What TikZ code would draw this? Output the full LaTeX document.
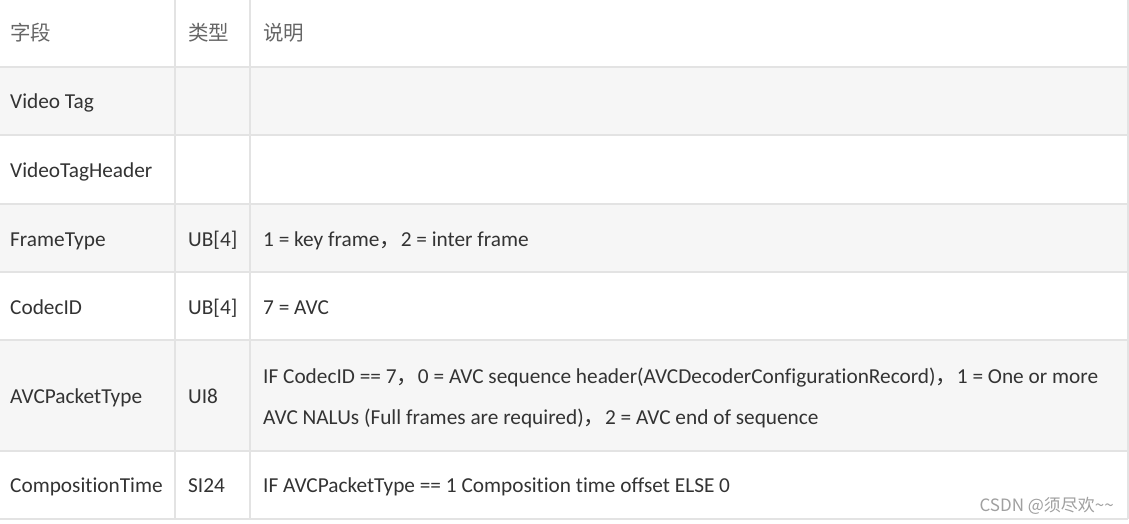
\documentclass[tikz,border=0pt]{standalone}
\usepackage{fontspec}
\setmainfont[Ligatures={NoCommon}]{Carlito}
\newfontfamily\cjk{Noto Sans CJK SC}
\begin{document}
\begin{tikzpicture}[x=1pt,y=-1pt,
  cell/.style={anchor=base west,inner sep=0pt,text=txt,font=\fontsize{21.3}{26}\selectfont},
  head/.style={anchor=west,inner sep=0pt,text=headtxt,font=\cjk\fontsize{20.5}{24}\selectfont},
  grid/.style={draw=gridc,line width=2pt}]
\definecolor{txt}{HTML}{333333}
\definecolor{headtxt}{HTML}{666666}
\definecolor{gridc}{HTML}{E3E3E3}
\definecolor{rowg}{HTML}{F6F6F6}
\definecolor{wm}{HTML}{A0A0A0}
\useasboundingbox (0,0) rectangle (1129,523);
\fill[white] (0,0) rectangle (1129,523);
% row backgrounds
\fill[rowg] (0,67) rectangle (1128,135);
\fill[rowg] (0,204) rectangle (1128,272);
\fill[rowg] (0,340) rectangle (1128,451);
% grid
\foreach \y in {67,135,204,272,340,451,519} \draw[grid] (0,\y) -- (1128,\y);
\foreach \x in {175,250,1128} \draw[grid] (\x,0) -- (\x,519);
% header
\node[head] (h1) at (10,33) {字段};
\node[head] (h2) at (188,33) {类型};
\node[head] (h3) at (263,33) {说明};
% rows
\node[cell] (r1) at (10,108) {Video Tag};
\node[cell] (r2) at (10,177) {VideoTagHeader};
\node[cell] (r3) at (10,246) {FrameType};
\node[cell] (r3t) at (188,246) {UB[4]};
\node[cell] (r3d) at (263,246) {1 = key frame{\cjk ，}2 = inter frame};
\node[cell] (r4) at (10,314) {CodecID};
\node[cell] (r4t) at (188,314) {UB[4]};
\node[cell] (r4d) at (263,314) {7 = AVC};
\node[cell] (r5) at (10,403) {AVCPacketType};
\node[cell] (r5t) at (188,403) {UI8};
\node[cell] (r5d) at (263,383) {IF CodecID == 7{\cjk ，}0 = AVC sequence header(AVCDecoderConfigurationRecord){\cjk ，}1 = One or more};
\node[cell] (r5e) at (263,424) {AVC NALUs (Full frames are required){\cjk ，}2 = AVC end of sequence};
\node[cell] (r6) at (10,492) {CompositionTime};
\node[cell] (r6t) at (188,492) {SI24};
\node[cell] (r6d) at (263,492) {IF AVCPacketType == 1 Composition time offset ELSE 0};
% watermark
\node[anchor=east,inner sep=0pt,text=wm,font=\cjk\fontsize{17}{20}\selectfont] (wmk) at (1114,506) {CSDN @须尽欢\textasciitilde\textasciitilde};
\end{tikzpicture}
\end{document}
